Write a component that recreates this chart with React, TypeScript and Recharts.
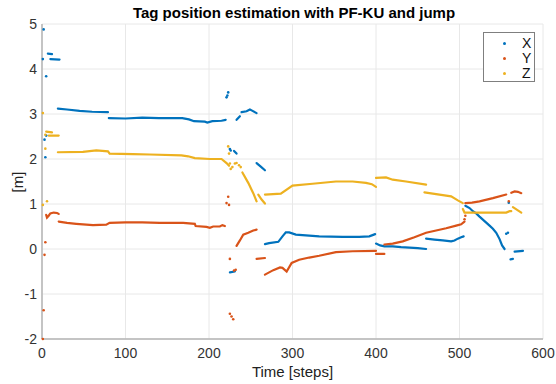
import { ScatterChart, Scatter, XAxis, YAxis, CartesianGrid } from "recharts";

type Pt = [number, number];

const FONT = '"Liberation Sans", Arial, Helvetica, sans-serif';
const xTicks = [0, 100, 200, 300, 400, 500, 600];
const yTicks = [-2, -1, 0, 1, 2, 3, 4, 5];

// X estimate (blue)
const xDots: Pt[] = [
  [1, 4.22], [2, 4.88], [5, 3.84], [3, 2.43], [5, 2.52], [4, 2.04],
  [221, 3.37], [222, 3.41], [223, 3.48], [225, 2.22], [226, 2.19],
  [556, 0.34], [558, 0.36], [559, 1.03],
];
const xSegments: Pt[][] = [
  [[7, 4.34], [12, 4.33]],
  [[10, 4.22], [21, 4.21]],
  [[19, 3.12], [30, 3.1], [45, 3.07], [60, 3.05], [79, 3.04]],
  [[80, 2.91], [100, 2.9], [120, 2.92], [140, 2.91], [168, 2.91], [176, 2.88], [182, 2.84], [195, 2.83], [198, 2.81], [204, 2.84], [215, 2.85], [220, 2.87]],
  [[233, 2.87], [235, 2.91], [237, 2.95]],
  [[239, 3.04], [245, 3.06], [249, 3.1], [251, 3.08], [257, 3.02]],
  [[230, 2.18], [233, 2.12]],
  [[257, 1.91], [262, 1.83], [267, 1.75]],
  [[225, -0.52], [231, -0.5]],
  [[267, 0.11], [272, 0.13], [283, 0.16], [288, 0.28], [292, 0.37], [296, 0.37], [304, 0.32], [332, 0.28], [360, 0.27], [380, 0.27], [392, 0.28], [399, 0.33]],
  [[400, 0.12], [405, 0.08], [410, 0.06], [420, 0.06], [430, 0.04], [440, 0.03], [450, 0.02], [460, 0.0]],
  [[460, 0.23], [470, 0.21], [480, 0.19], [490, 0.17], [494, 0.19], [498, 0.23], [502, 0.26], [505, 0.28]],
  [[507, 0.96], [512, 0.91], [516, 0.84], [520, 0.79], [524, 0.72], [530, 0.62], [536, 0.52], [540, 0.45], [544, 0.36], [548, 0.22], [551, 0.08], [554, 0.0]],
  [[561, -0.23], [564, -0.22]],
  [[566, -0.06], [576, -0.04]],
];

// Y estimate (orange)
const yDots: Pt[] = [
  [1, -2.0], [2, -1.36], [3, -0.13], [4, 0.15],
  [221, 1.02], [223, 1.16], [224, 0.98], [225, -0.22], [225, -1.44], [227, -1.5], [229, -1.56],
  [230, -0.48], [232, -0.46], [506, 0.66], [507, 0.74], [559, 1.06],
];
const ySegments: Pt[][] = [
  [[5, 0.76], [6, 0.7], [8, 0.74], [10, 0.79], [14, 0.81], [18, 0.8], [20, 0.78]],
  [[20, 0.61], [30, 0.58], [41, 0.56], [61, 0.53], [77, 0.54], [81, 0.58], [100, 0.59], [120, 0.59], [141, 0.58], [169, 0.58], [183, 0.56], [184, 0.51], [197, 0.49], [201, 0.47], [205, 0.5], [213, 0.5], [216, 0.53], [219, 0.51]],
  [[233, 0.07], [237, 0.19], [241, 0.32], [247, 0.36], [253, 0.41], [257, 0.43]],
  [[257, -0.22], [267, -0.2]],
  [[267, -0.57], [277, -0.47], [285, -0.41], [288, -0.42], [293, -0.5], [299, -0.31], [308, -0.24], [320, -0.19], [332, -0.15], [352, -0.07], [372, -0.05], [400, -0.04]],
  [[400, -0.11], [410, -0.11]],
  [[410, 0.1], [420, 0.12], [432, 0.17], [446, 0.26], [460, 0.36], [472, 0.41], [484, 0.46], [496, 0.52], [502, 0.55], [506, 0.61]],
  [[507, 1.02], [515, 1.03], [524, 1.06], [540, 1.13], [556, 1.21]],
  [[562, 1.25], [566, 1.28], [570, 1.27], [574, 1.24]],
];

// Z estimate (yellow)
const zDots: Pt[] = [
  [1, 3.02], [4, 2.54], [4, 2.23], [1, 0.98], [6, 1.06],
  [223, 2.28], [224, 2.12], [225, 1.9], [226, 1.78], [228, 1.82], [231, 1.9], [233, 1.91], [236, 1.86], [238, 1.82],
];
const zSegments: Pt[][] = [
  [[5, 2.61], [12, 2.59]],
  [[8, 2.52], [20, 2.52]],
  [[19, 2.15], [49, 2.16], [65, 2.19], [79, 2.17], [81, 2.12], [109, 2.11], [129, 2.1], [167, 2.08], [175, 2.06], [183, 2.02], [201, 2.0], [215, 2.0], [221, 1.91], [224, 1.85]],
  [[240, 1.7], [247, 1.47], [253, 1.24], [257, 1.06]],
  [[259, 1.21], [263, 1.1], [267, 1.01]],
  [[267, 1.21], [286, 1.23], [300, 1.41], [324, 1.45], [352, 1.5], [372, 1.5], [388, 1.47], [395, 1.44], [400, 1.38]],
  [[400, 1.58], [412, 1.59], [420, 1.54], [436, 1.5], [460, 1.43]],
  [[458, 1.26], [476, 1.21], [490, 1.17], [498, 1.08], [504, 1.02]],
  [[504, 0.89], [506, 0.81], [530, 0.81], [556, 0.81], [560, 0.84], [562, 0.84]],
  [[564, 0.93], [569, 0.87], [574, 0.81]],
];

const series = [
  { name: "X", color: "#0072BD", dots: xDots, segments: xSegments },
  { name: "Y", color: "#D95319", dots: yDots, segments: ySegments },
  { name: "Z", color: "#EDB120", dots: zDots, segments: zSegments },
];

const toPts = (arr: Pt[]) => arr.map(([x, y]) => ({ x, y }));

export default function App() {
  return (
    <div style={{ position: "fixed", left: 0, top: 0, width: 556, height: 384, background: "#fff", fontFamily: FONT }}>
      <div
        style={{
          position: "absolute",
          left: 0,
          width: 588,
          top: 4,
          textAlign: "center",
          fontSize: 15,
          fontWeight: "bold",
          color: "#000",
          lineHeight: "17px",
        }}
      >
        Tag position estimation with PF-KU and jump
      </div>

      <ScatterChart width={556} height={384} margin={{ top: 24, right: 13, bottom: 0, left: 0 }}>
        <CartesianGrid stroke="#e8e8e8" strokeWidth={1} />
        <XAxis
          type="number"
          dataKey="x"
          domain={[0, 600]}
          ticks={xTicks}
          tickLine={false}
          tickSize={0}
          tickMargin={9}
          height={45}
          axisLine={{ stroke: "#b4b4b4", strokeWidth: 1.5 }}
          tick={{ fontSize: 14, fill: "#333", fontFamily: FONT }}
          label={{ value: "Time [steps]", position: "insideBottom", offset: 7, fontSize: 15, fill: "#222", fontFamily: FONT }}
        />
        <XAxis xAxisId="top" orientation="top" type="number" domain={[0, 600]} height={0} tick={false} tickLine={false} axisLine={{ stroke: "#8a8a8a" }} />
        <YAxis
          type="number"
          dataKey="y"
          domain={[-2, 5]}
          ticks={yTicks}
          tickLine={false}
          tickSize={0}
          tickMargin={5}
          width={42}
          axisLine={{ stroke: "#b4b4b4", strokeWidth: 1.5 }}
          tick={{ fontSize: 14, fill: "#333", fontFamily: FONT }}
          label={{
            content: () => (
              <text x={17} y={182} transform="rotate(-90 17 182)" textAnchor="middle" dominantBaseline="central" fontSize={15} fill="#222" fontFamily={FONT}>
                [m]
              </text>
            ),
          }}
        />
        <YAxis yAxisId="right" orientation="right" type="number" domain={[-2, 5]} width={0} tick={false} tickLine={false} axisLine={{ stroke: "#8a8a8a" }} />

        {series.map((s) =>
          s.segments.map((seg, i) => (
            <Scatter
              key={`${s.name}-seg-${i}`}
              data={toPts(seg)}
              fill={s.color}
              line={{ stroke: s.color, strokeWidth: 2.2, strokeLinecap: "round" }}
              shape={() => <g />}
              legendType="none"
              isAnimationActive={false}
            />
          ))
        )}
        {series.map((s) => (
          <Scatter
            key={`${s.name}-dots`}
            name={s.name}
            data={toPts(s.dots)}
            fill={s.color}
            shape={(p: any) => <circle cx={p.cx} cy={p.cy} r={1.3} fill={s.color} />}
            isAnimationActive={false}
          />
        ))}
      </ScatterChart>

      <div
        style={{
          position: "absolute",
          left: 483,
          top: 32,
          width: 50,
          height: 48,
          border: "1px solid #7f7f7f",
          background: "#fff",
        }}
      >
        {series.map((s, i) => (
          <div key={s.name} style={{ position: "absolute", left: 0, top: 2 + i * 15, width: 50, height: 16 }}>
            <span
              style={{
                position: "absolute",
                left: 19,
                top: 7,
                width: 3,
                height: 3,
                borderRadius: "50%",
                background: s.color,
              }}
            />
            <span style={{ position: "absolute", left: 38, top: 0, fontSize: 14, lineHeight: "16px", color: "#111" }}>{s.name}</span>
          </div>
        ))}
      </div>
    </div>
  );
}
